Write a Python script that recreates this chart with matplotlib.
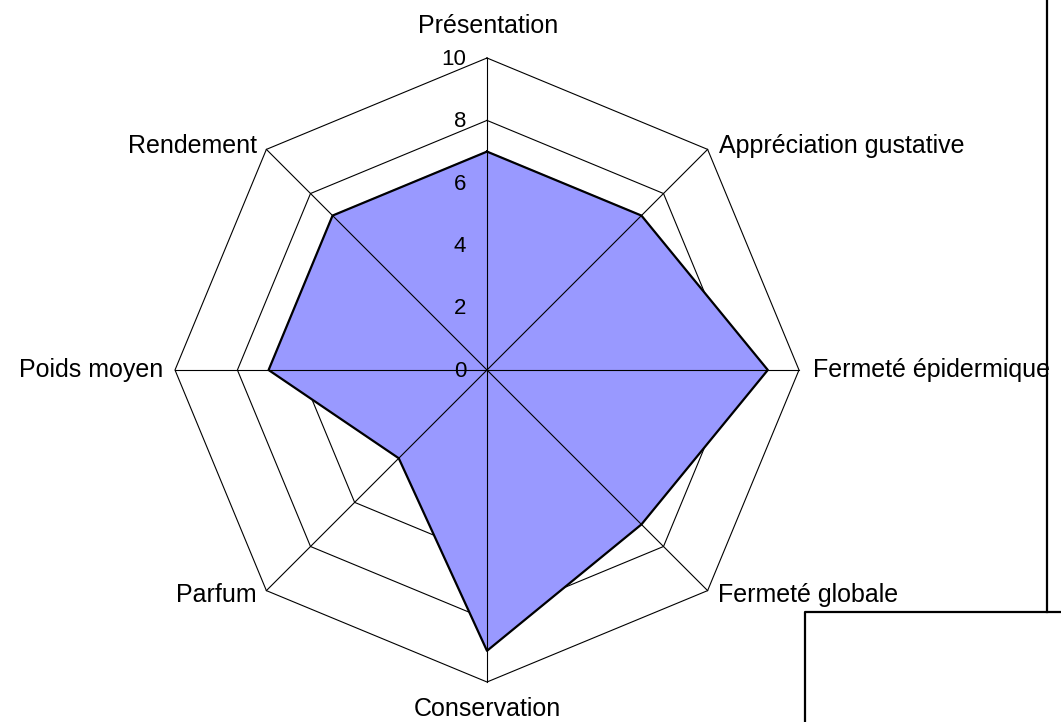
import numpy as np
import matplotlib
matplotlib.use("Agg")
import matplotlib.pyplot as plt
from matplotlib.lines import Line2D

categories = ["Présentation", "Appréciation gustative", "Fermeté épidermique",
              "Fermeté globale", "Conservation", "Parfum", "Poids moyen", "Rendement"]
values = [7, 7, 9, 7, 9, 4, 7, 7]
ticks = [0, 2, 4, 6, 8, 10]

W, H = 1061, 722
fig = plt.figure(figsize=(W / 100, H / 100), dpi=100)
ax = fig.add_axes([0, 0, 1, 1])
cx, cy, scale = 487, 370, 31.2
ax.set_xlim(-cx / scale, (W - cx) / scale)
ax.set_ylim(-(H - cy) / scale, cy / scale)
ax.set_aspect("equal")
ax.axis("off")

n = len(categories)
ang = np.arange(n) * 2 * np.pi / n
sx, sy = np.sin(ang), np.cos(ang)
rmax = ticks[-1]

# rings
for t in ticks[1:]:
    ax.plot(np.append(sx, sx[0]) * t, np.append(sy, sy[0]) * t, color="black", lw=0.8, zorder=1)

# data polygon
vx = np.array(values) * sx
vy = np.array(values) * sy
ax.fill(vx, vy, color="#9999FF", zorder=2)
ax.plot(np.append(vx, vx[0]), np.append(vy, vy[0]), color="black", lw=1.6, zorder=4)

# spokes
for i in range(n):
    ax.plot([0, sx[i] * rmax], [0, sy[i] * rmax], color="black", lw=0.8, zorder=3)

# tick labels
for t in ticks:
    ax.text(-0.67, t - 0.22, str(t), ha="right", va="baseline", fontsize=16,
            family="Liberation Sans", zorder=5)

# category labels
lab = dict(fontsize=18, family="Liberation Sans", zorder=5, va="baseline")
offsets = [
    (0.05, 0.80, "center"),
    (0.38, -0.10, "left"),
    (0.45, -0.22, "left"),
    (0.33, -0.38, "left"),
    (0.0, -1.10, "center"),
    (-0.32, -0.38, "right"),
    (-0.38, -0.22, "right"),
    (-0.29, -0.10, "right"),
]
for i, (c, (dx, dy, ha)) in enumerate(zip(categories, offsets)):
    ax.text(sx[i] * rmax + dx, sy[i] * rmax + dy, c, ha=ha, **lab)

# frame lines on the right
fig.add_artist(Line2D([1047 / W, 1047 / W], [1, 1 - 612 / H], color="black", lw=1.6,
                      transform=fig.transFigure))
fig.add_artist(Line2D([1.01, 805 / W, 805 / W], [1 - 612 / H, 1 - 612 / H, -0.01],
                      color="black", lw=1.6, transform=fig.transFigure))

fig.savefig("out.png", dpi=100)
